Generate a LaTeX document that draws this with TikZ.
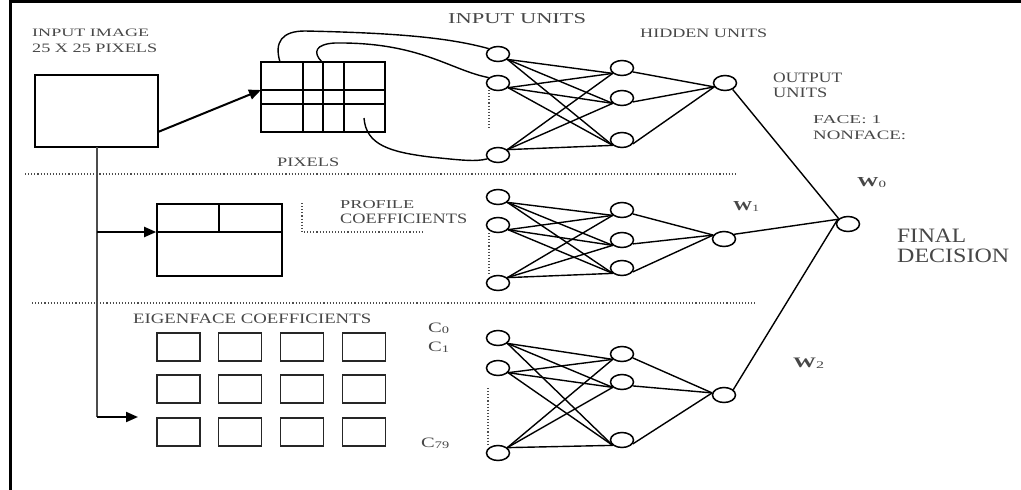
\documentclass[tikz,border=0pt]{standalone}
\usepackage{fontspec}
\setmainfont{Liberation Serif}
\usetikzlibrary{shapes.geometric,arrows.meta,calc}
\newcommand{\tx}[3]{\resizebox{#1pt}{#2pt}{#3}}
\newcommand{\sbs}[1]{\raisebox{-0.25ex}{\scriptsize #1}}
\begin{document}
\begin{tikzpicture}[x=1pt,y=-1pt,
  unit/.style={ellipse,draw,line width=1.5pt,minimum width=23pt,minimum height=15pt,inner sep=0pt},
  wire/.style={line width=1.4pt},
  lbl/.style={anchor=base west,inner sep=0pt,text=black!72},
  sepline/.style={dotted,line width=1.1pt,black!70},
  boxst/.style={draw,line width=1.6pt,inner sep=0pt},
  sq/.style={draw,line width=1.5pt,black!85,inner sep=0pt,minimum width=43pt,minimum height=28pt},
  thickarrow/.style={line width=2pt,-{Triangle[length=12pt,width=10pt]}}]
\useasboundingbox (0,0) rectangle (1021,490);
\fill[white] (0,0) rectangle (1021,490);
% frame
\draw[line width=3pt] (10,490) -- (10,1.5) -- (1021,1.5);

% input image box
\node[boxst,minimum width=123pt,minimum height=72pt] (inbox) at (96.5,111) {};
% pixel grid
\node[boxst,minimum width=124pt,minimum height=70pt] (grid) at (323,97) {};
\draw[line width=1.5pt] (grid.west |- 0,90) -- (grid.east |- 0,90);
\draw[line width=1.5pt] (grid.west |- 0,104) -- (grid.east |- 0,104);
\foreach \xx in {303,323,344} \draw[line width=1.5pt] (\xx,62) -- (\xx,132);
% profile box
\node[boxst,minimum width=125pt,minimum height=72pt] (prof) at (219.5,240) {};
\draw[line width=1.5pt] (prof.west |- 0,232) -- (prof.east |- 0,232);
\draw[line width=1.5pt] (219,204) -- (219,232);
% eigenface squares
\foreach \c/\xx in {1/178.5,2/240,3/302,4/364}
  \foreach \r/\yy in {1/347,2/389,3/432}
    \node[sq] (e\r\c) at (\xx,\yy) {};

% arrows from input image
\coordinate (p1) at (158,132);
\coordinate (p2) at (261,90);
\draw[thickarrow] (p1) -- (p2);
\coordinate (v0) at (97,147);
\coordinate (v1) at (97,232);
\coordinate (v2) at (97,417);
\coordinate (a3) at (138,417);
\draw[line width=2pt,black!70] (v0) -- (v2);
\draw[thickarrow] (v1) -- (prof.west |- v1);
\draw[thickarrow] (v2) -- (a3);

% separators
\draw[sepline] (25,174) -- (735,174);
\draw[sepline] (32,303) -- (757,303);
\draw[sepline] (302,203) -- (302,232) -- (423,232);

% units
\node[unit] (ti1) at (498,54) {};
\node[unit] (ti2) at (498,83) {};
\node[unit] (ti3) at (498,155) {};
\node[unit] (th1) at (622,68) {};
\node[unit] (th2) at (622,98) {};
\node[unit] (th3) at (622,140) {};
\node[unit] (to) at (725,83) {};
\node[unit] (mi1) at (498,197) {};
\node[unit] (mi2) at (498,225) {};
\node[unit] (mi3) at (498,283) {};
\node[unit] (mh1) at (622,210) {};
\node[unit] (mh2) at (622,240) {};
\node[unit] (mh3) at (622,268) {};
\node[unit] (mo) at (724,239) {};
\node[unit] (bi1) at (498,338) {};
\node[unit] (bi2) at (498,368) {};
\node[unit] (bi3) at (498,453) {};
\node[unit] (bh1) at (622,354) {};
\node[unit] (bh2) at (622,382) {};
\node[unit] (bh3) at (622,440) {};
\node[unit] (bo) at (724,395) {};
\node[unit] (fin) at (848,224) {};

% dotted between input units
\draw[sepline] (489,90) -- (489,130);
\draw[sepline] (489,233) -- (489,275);
\draw[sepline] (488,388) -- (488,445);

% connections
\foreach \s/\oe in {t/200,m/160,b/170}{
  \foreach \a/\ang in {1/-30,2/-25,3/30}
    \foreach \b in {1,2,3}
      \draw[wire] (\s i\a.\ang) -- (\s h\b.210);
  \foreach \b in {1,2,3}
    \draw[wire] (\s h\b.-20) -- (\s o.\oe);
}
\draw[wire] (to.-40) -- (fin.150);
\draw[wire] (mo.25) -- (fin.155);
\draw[wire] (bo.30) -- (fin.160);

% curves from pixel grid
\coordinate (c1) at (280,62);
\coordinate (c2) at (322,62);
\coordinate (c3) at (364,118);
\draw[wire] (c1) .. controls (274,42) and (282,31) .. (305,31) .. controls (400,33) and (450,38) .. (ti1.150);
\draw[wire] (c2) .. controls (312,52) and (316,44) .. (335,43) .. controls (420,42) and (450,70) .. (ti2.150);
\draw[wire] (c3) .. controls (366,145) and (390,152) .. (430,157) .. controls (460,160) and (475,162) .. (ti3.200);

% labels
\node[lbl] (l1) at (32,36) {\tx{117}{7.5}{INPUT IMAGE}};
\node[lbl] (l2) at (32,52.5) {\tx{125}{8.5}{25 X 25 PIXELS}};
\node[lbl] (l3) at (448,23) {\tx{138}{10}{INPUT UNITS}};
\node[lbl] (l4) at (640,37) {\tx{127}{8.5}{HIDDEN UNITS}};
\node[lbl] (l5) at (773,82) {\tx{69}{9.5}{OUTPUT}};
\node[lbl] (l6) at (773,97) {\tx{54}{9.5}{UNITS}};
\node[lbl] (l7) at (813,123) {\tx{68}{8}{FACE: 1}};
\node[lbl] (l8) at (813,139) {\tx{93}{8.5}{NONFACE:}};
\node[lbl] (l9) at (277,166) {\tx{62}{8.5}{PIXELS}};
\node[lbl] (l10) at (340,208.5) {\tx{74}{8}{PROFILE}};
\node[lbl] (l11) at (340,223) {\tx{127}{9.5}{COEFFICIENTS}};
\node[lbl] (l12) at (133,323) {\tx{238}{9.5}{EIGENFACE COEFFICIENTS}};
\node[lbl] (l13) at (897,242) {\tx{69}{13.5}{FINAL}};
\node[lbl] (l14) at (897,262) {\tx{112}{13.5}{DECISION}};
\node[lbl] (c0) at (428,332) {\tx{21}{9.5}{C\sbs{0}}};
\node[lbl] (c1l) at (428,351) {\tx{21}{9.5}{C\sbs{1}}};
\node[lbl] (c79) at (421,447) {\tx{28}{9.5}{C\sbs{79}}};
\node[lbl] (w0) at (857,186) {\tx{29}{9}{\textbf{W}\sbs{0}}};
\node[lbl] (w1) at (733,210) {\tx{26}{9}{\textbf{W}\sbs{1}}};
\node[lbl] (w2) at (793,367) {\tx{31}{9.5}{\textbf{W}\sbs{2}}};
\end{tikzpicture}
\end{document}
